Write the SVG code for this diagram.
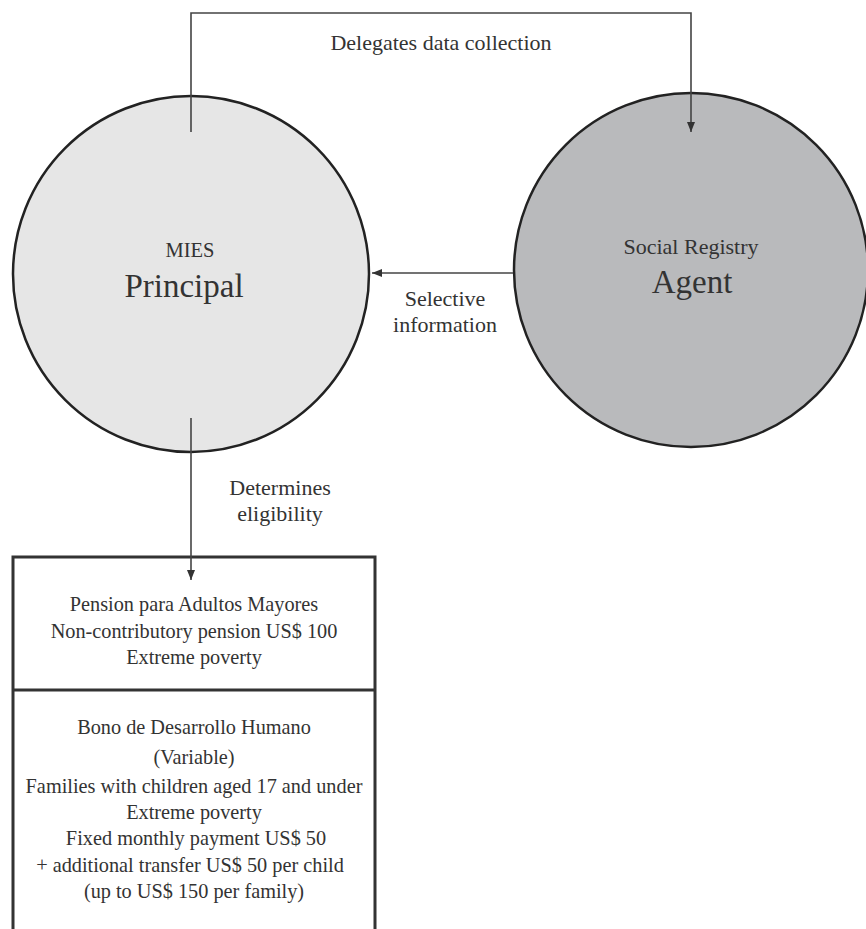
<svg xmlns="http://www.w3.org/2000/svg" width="866" height="929" viewBox="0 0 866 929">
<style>
.t,.s,.b,.big{fill:#333;text-anchor:middle;font-family:'Liberation Serif',serif}
.t{font-size:22px}
.b{font-size:20.3px}
.s{font-size:20.5px}
.big{font-size:33px}
.conn{fill:none;stroke:#444;stroke-width:1.6}
</style>
<defs>
<marker id="ah" viewBox="0 0 10 10" refX="10" refY="5" markerWidth="10" markerHeight="10" markerUnits="userSpaceOnUse" orient="auto">
<path d="M0,1 L10,5 L0,9 Z" fill="#333"/>
</marker>
</defs>
<rect width="866" height="929" fill="#fff"/>
<g id="principal">
<circle cx="191" cy="274" r="178" fill="#e6e6e6" stroke="#222" stroke-width="2.5"/>
<text class="s" x="190" y="257" font-family="Liberation Serif">MIES</text>
<text class="big" x="184" y="297" font-family="Liberation Serif">Principal</text>
</g>
<g id="agent">
<circle cx="691" cy="270" r="177" fill="#b9babc" stroke="#222" stroke-width="2.5"/>
<text class="t" x="691" y="254" font-family="Liberation Serif">Social Registry</text>
<text class="big" x="692" y="293" font-family="Liberation Serif">Agent</text>
</g>
<g id="programs">
<path d="M13,929 V557 H375 V929" fill="#fff" stroke="#333" stroke-width="3"/>
<line x1="13" y1="690" x2="375" y2="690" stroke="#333" stroke-width="3"/>
<text class="b" x="194" y="611" font-family="Liberation Serif">Pension para Adultos Mayores</text>
<text class="b" x="194" y="638" font-family="Liberation Serif">Non-contributory pension US$ 100</text>
<text class="b" x="194" y="664" font-family="Liberation Serif">Extreme poverty</text>
<text class="b" x="194" y="734" font-family="Liberation Serif">Bono de Desarrollo Humano</text>
<text class="b" x="194" y="764" font-family="Liberation Serif">(Variable)</text>
<text class="b" x="194" y="793" font-family="Liberation Serif">Families with children aged 17 and under</text>
<text class="b" x="194" y="819" font-family="Liberation Serif">Extreme poverty</text>
<text class="b" x="196" y="845" font-family="Liberation Serif">Fixed monthly payment US$ 50</text>
<text class="b" x="190" y="872" font-family="Liberation Serif">+ additional transfer US$ 50 per child</text>
<text class="b" x="194" y="898" font-family="Liberation Serif">(up to US$ 150 per family)</text>
</g>
<g id="connectors">
<path class="conn" d="M191,132 V13 H691 V132" marker-end="url(#ah)"/>
<path class="conn" d="M513,273 H372" marker-end="url(#ah)"/>
<path class="conn" d="M191,418 V580" marker-end="url(#ah)"/>
<text class="t" x="441" y="50" font-family="Liberation Serif">Delegates data collection</text>
<text class="t" x="445" y="306" font-family="Liberation Serif">Selective</text>
<text class="t" x="445" y="332" font-family="Liberation Serif">information</text>
<text class="t" x="280" y="495" font-family="Liberation Serif">Determines</text>
<text class="t" x="280" y="521" font-family="Liberation Serif">eligibility</text>
</g>
</svg>
